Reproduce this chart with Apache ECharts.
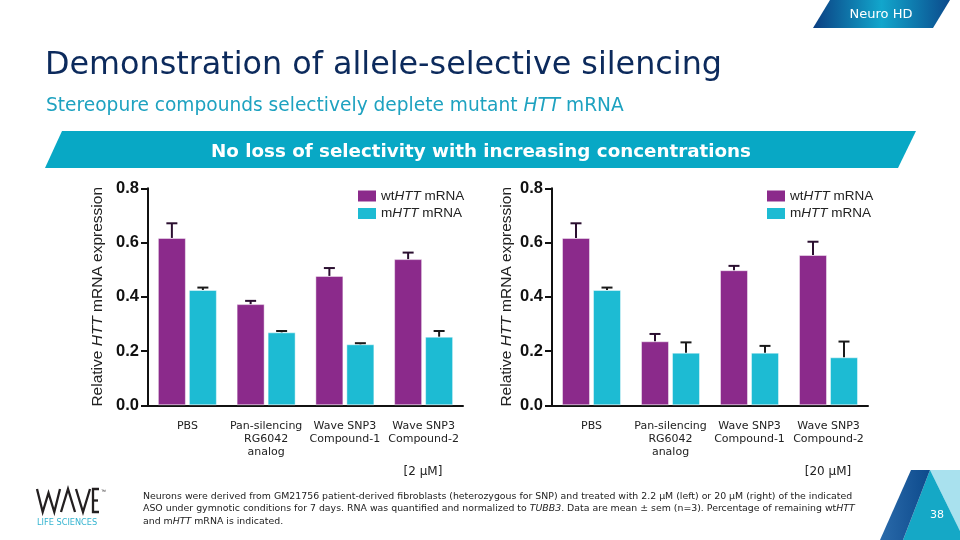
<!DOCTYPE html>
<html><head><meta charset="utf-8">
<script src="https://cdn.jsdelivr.net/npm/echarts@6/dist/echarts.min.js"></script>
<style>html,body{margin:0;padding:0;background:#fff}#c{width:960px;height:540px}</style>
</head><body><div id="c"></div>
<script>
// ---- data ----
const categories = ['PBS', 'Pan-silencing\nRG6042\nanalog', 'Wave SNP3\nCompound-1', 'Wave SNP3\nCompound-2'];
const yTicks = [0, 0.2, 0.4, 0.6, 0.8];
const seriesNames = ['wtHTT mRNA', 'mHTT mRNA'];
const conc = ['[2 \u03bcM]', '[20 \u03bcM]'];
// left panel: 2 µM
const wtLow = [0.617, 0.373, 0.477, 0.539];
const wtLowSem = [0.054, 0.012, 0.029, 0.024];
const mLow = [0.425, 0.269, 0.225, 0.253];
const mLowSem = [0.009, 0.005, 0.004, 0.021];
// right panel: 20 µM
const wtHigh = [0.617, 0.236, 0.498, 0.554];
const wtHighSem = [0.054, 0.027, 0.016, 0.049];
const mHigh = [0.425, 0.194, 0.194, 0.177];
const mHighSem = [0.009, 0.038, 0.025, 0.058];

// ---- styles ----
const PURPLE = '#8b2a8b', CYAN = '#1dbbd3';
const BW = 28, GAP = 3;
const AX = '#111';
const SANS = "'Liberation Sans', Arial, sans-serif";
const VERD = "'DejaVu Sans', Verdana, sans-serif";

const chart = echarts.init(document.getElementById('c'), null, {renderer: 'canvas'});

function yAxis(gridIndex, nameGap) {
  return {
    type: 'value', gridIndex, min: yTicks[0], max: yTicks[yTicks.length - 1], interval: 0.2,
    name: '{n|Relative }{i|HTT}{n| mRNA expression}', nameLocation: 'middle', nameGap,
    nameTextStyle: {rich: {
      n: {fontFamily: SANS, fontSize: 15.5, color: '#222'},
      i: {fontFamily: SANS, fontSize: 15.5, color: '#222', fontStyle: 'italic'}
    }},
    axisLine: {show: true, lineStyle: {color: AX, width: 2}},
    axisTick: {show: true, length: 7, lineStyle: {color: AX, width: 2}},
    splitLine: {show: false},
    axisLabel: {fontFamily: SANS, fontWeight: 'bold', fontSize: 16.5, color: AX, margin: 9,
      formatter: v => v.toFixed(1)}
  };
}
function xAxis(gridIndex) {
  return {
    type: 'category', gridIndex, data: categories,
    axisLine: {lineStyle: {color: AX, width: 2}},
    axisTick: {alignWithLabel: true, length: 8, lineStyle: {color: AX, width: 2}},
    axisLabel: {interval: 0, fontFamily: VERD, fontSize: 11, lineHeight: 13, color: '#222', margin: 14}
  };
}
function bars(name, data, idx, color) {
  return {
    type: 'bar', name, data, xAxisIndex: idx, yAxisIndex: idx,
    barWidth: BW, barGap: (GAP / BW * 100).toFixed(1) + '%',
    itemStyle: {color, borderColor: 'rgba(255,255,255,0.45)', borderWidth: 1},
    emphasis: {disabled: true}, z: 2
  };
}
function errs(vals, sems, idx, side, color) {
  const off = side * (BW + GAP) / 2;
  return {
    type: 'custom', name: 'err' + idx + side, xAxisIndex: idx, yAxisIndex: idx, z: 5,
    data: vals.map((v, i) => [i, v, sems[i]]),
    encode: {x: 0, y: 1},
    renderItem: (params, api) => {
      const i = api.value(0), v = api.value(1), e = api.value(2);
      const p0 = api.coord([i, v]), p1 = api.coord([i, v + e]);
      const cx = p0[0] + off;
      const st = {stroke: color, lineWidth: 2};
      return {type: 'group', children: [
        {type: 'line', shape: {x1: cx, y1: p0[1], x2: cx, y2: p1[1]}, style: st},
        {type: 'line', shape: {x1: cx - 5.5, y1: p1[1], x2: cx + 5.5, y2: p1[1]}, style: st}
      ]};
    }
  };
}
function legend(left) {
  return {
    left, top: 184, orient: 'vertical', itemWidth: 18, itemHeight: 11, itemGap: 3.5,
    icon: 'rect', data: seriesNames, selectedMode: false,
    itemStyle: {borderWidth: 0},
    formatter: n => n.startsWith('wt') ? '{n|wt}{i|HTT}{n| mRNA}' : '{n|m}{i|HTT}{n| mRNA}',
    textStyle: {rich: {
      n: {fontFamily: SANS, fontSize: 13.5, color: '#222', lineHeight: 14},
      i: {fontFamily: SANS, fontSize: 13.5, color: '#222', fontStyle: 'italic', lineHeight: 14}
    }}
  };
}

const graphics = [
  // Neuro HD tab
  {type: 'polygon', shape: {points: [[813, 28], [830, 0], [950, 0], [933, 28]]},
   style: {fill: new echarts.graphic.LinearGradient(0, 0, 1, 0, [
     {offset: 0, color: '#0b3f82'}, {offset: 0.5, color: '#12a6cc'}, {offset: 1, color: '#0b4a8c'}])}},
  {type: 'text', x: 881, y: 15, style: {text: 'Neuro HD', fill: '#fff', font: '13px ' + VERD, align: 'center', verticalAlign: 'middle'}},
  // title
  {type: 'text', x: 45, y: 66, style: {text: 'Demonstration of allele-selective silencing', fill: '#0c2a5c', font: '31.8px ' + VERD, verticalAlign: 'middle'}},
  {type: 'text', x: 46, y: 106, style: {
    text: '{n|Stereopure compounds selectively deplete mutant }{i|HTT}{n| mRNA}', verticalAlign: 'middle',
    rich: {n: {fill: '#1ea2c0', font: '18.6px ' + VERD}, i: {fill: '#1ea2c0', font: 'italic 18.6px ' + VERD}}}},
  // banner
  {type: 'polygon', shape: {points: [[45, 168], [62, 131], [916, 131], [898, 168]]}, style: {fill: '#08a8c5'}},
  {type: 'text', x: 481, y: 152, style: {text: 'No loss of selectivity with increasing concentrations', fill: '#fff', font: 'bold 18.3px ' + VERD, align: 'center', verticalAlign: 'middle'}},
  // concentrations
  {type: 'text', x: 423, y: 472, style: {text: conc[0], fill: '#222', font: '12px ' + VERD, align: 'center', verticalAlign: 'middle'}},
  {type: 'text', x: 828, y: 472, style: {text: conc[1], fill: '#222', font: '12px ' + VERD, align: 'center', verticalAlign: 'middle'}},
  // logo
  {type: 'polyline', shape: {points: [[37, 489], [42.7, 512], [48.5, 493], [54.3, 512], [60, 489]]}, style: {stroke: '#231f20', lineWidth: 2.3, fill: null}},
  {type: 'polyline', shape: {points: [[61, 512], [68, 489], [75, 512]]}, style: {stroke: '#231f20', lineWidth: 2.3, fill: null}},
  {type: 'polyline', shape: {points: [[76, 489], [83, 512], [90, 489]]}, style: {stroke: '#231f20', lineWidth: 2.3, fill: null}},
  {type: 'polyline', shape: {points: [[99, 489], [93, 489], [93, 512], [99, 512]]}, style: {stroke: '#231f20', lineWidth: 2.3, fill: null}},
  {type: 'line', shape: {x1: 93, y1: 500.5, x2: 98, y2: 500.5}, style: {stroke: '#231f20', lineWidth: 2.3}},
  {type: 'text', x: 101, y: 489, style: {text: '\u2122', fill: '#231f20', font: '5px ' + SANS}},
  {type: 'text', x: 37, y: 523, style: {text: 'LIFE SCIENCES', fill: '#35b4d0', font: '8.2px ' + VERD, verticalAlign: 'middle'}},
  // footnote
  {type: 'text', x: 143, y: 490, style: {
    text: '{n|Neurons were derived from GM21756 patient-derived fibroblasts (heterozygous for SNP) and treated with 2.2 \u03bcM (left) or 20 \u03bcM (right) of the indicated}\n' +
          '{n|ASO under gymnotic conditions for 7 days. RNA was quantified and normalized to }{i|TUBB3}{n|. Data are mean \u00b1 sem (n=3). Percentage of remaining wt}{i|HTT}\n' +
          '{n|and m}{i|HTT}{n| mRNA is indicated.}',
    verticalAlign: 'top',
    rich: {n: {fill: '#222', font: '9.4px ' + VERD, lineHeight: 12.5}, i: {fill: '#222', font: 'italic 9.4px ' + VERD, lineHeight: 12.5}}}},
  // bottom-right decoration
  {type: 'polygon', shape: {points: [[930, 470], [960, 470], [960, 531]]}, style: {fill: '#a9e1ee'}},
  {type: 'polygon', shape: {points: [[930, 470], [960, 531], [960, 540], [903, 540]]}, style: {fill: '#15a8c6'}},
  {type: 'polygon', shape: {points: [[880, 540], [911, 470], [930, 470], [903, 540]]},
   style: {fill: new echarts.graphic.LinearGradient(0, 0, 1, 0, [{offset: 0, color: '#2a6aaa'}, {offset: 1, color: '#0d4a8c'}])}},
  {type: 'text', x: 937, y: 515, style: {text: '38', fill: '#fff', font: '11px ' + VERD, align: 'center', verticalAlign: 'middle'}}
];

chart.setOption({
  animation: false,
  backgroundColor: '#fff',
  grid: [
    {left: 148, width: 315, top: 188.3, bottom: 134.7},
    {left: 552, width: 316, top: 188.3, bottom: 134.7}
  ],
  xAxis: [xAxis(0), xAxis(1)],
  yAxis: [yAxis(0, 42), yAxis(1, 37)],
  legend: [legend(353), legend(762)],
  series: [
    bars(seriesNames[0], wtLow, 0, PURPLE), bars(seriesNames[1], mLow, 0, CYAN),
    bars(seriesNames[0], wtHigh, 1, PURPLE), bars(seriesNames[1], mHigh, 1, CYAN),
    errs(wtLow, wtLowSem, 0, -1, '#2b0f30'), errs(mLow, mLowSem, 0, 1, '#1a1a1a'),
    errs(wtHigh, wtHighSem, 1, -1, '#2b0f30'), errs(mHigh, mHighSem, 1, 1, '#1a1a1a')
  ],
  graphic: graphics
});
</script></body></html>
